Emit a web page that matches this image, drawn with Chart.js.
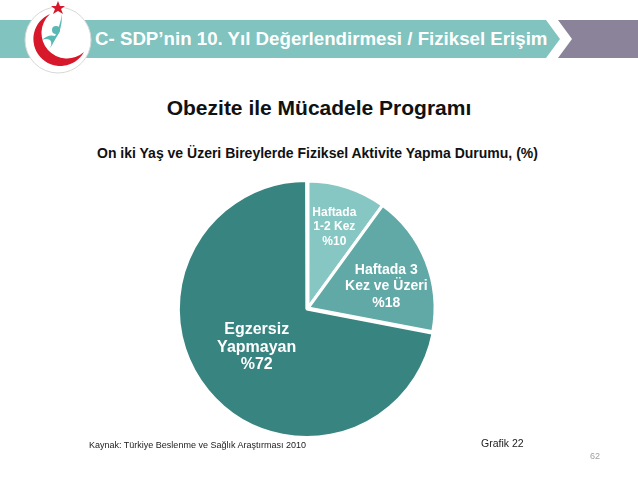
<!DOCTYPE html>
<html lang="tr">
<head>
<meta charset="utf-8">
<script src="https://cdn.jsdelivr.net/npm/chart.js@4/dist/chart.umd.min.js"></script>
<style>
  html, body { margin: 0; padding: 0; background: #fff; }
  body { width: 638px; height: 479px; position: relative; overflow: hidden;
         font-family: "Liberation Sans", Arial, sans-serif; }
  .abs { position: absolute; white-space: nowrap; }
  #basText { left: 95px; top: 28px; color: #fff; font-weight: bold; font-size: 18.7px; line-height: 22px; }
  #title { left: 0; width: 638px; text-align: center; top: 96px; font-weight: bold; font-size: 21px; color: #111; }
  #subtitle { left: 97px; top: 145px; font-weight: bold; font-size: 14px; color: #111; }
  #kaynak { left: 89px; top: 440px; font-size: 9px; color: #222; }
  #grafik { left: 481px; top: 437px; font-size: 10.5px; color: #222; }
  #sayfa { left: 590px; top: 451px; font-size: 9px; color: #a0a0a0; }
  #chartBox { position: absolute; left: 168px; top: 168px; width: 280px; height: 280px; }
</style>
</head>
<body>

<!-- üst bant -->
<svg class="abs" style="left:0;top:0" width="638" height="80">
  <polygon points="0,20 546,20 560,39 546,58 0,58" fill="#80c3bf"/>
  <polygon points="558,20 638,20 638,58 558,58 572,39" fill="#8b8399"/>
  <!-- logo -->
  <circle cx="58" cy="40" r="33" fill="#fff" stroke="#d8d8d8" stroke-width="1"/>
  <path d="M 50 14 A 27 27 0 1 0 84 52 A 23 23 0 1 1 50 14 Z" fill="#d7182a"/>
  <polygon points="58,1 60,6 65,6 61,9 63,14 58,11 53,14 55,9 51,6 56,6" fill="#d7182a"/>
  <circle cx="56" cy="30" r="4" fill="#5bb8b4"/>
  <path d="M 62 14 Q 62 30 56 38 Q 52 46 47 52 Q 54 44 50 40 Q 46 38 42 40 Q 48 34 55 36 Q 60 26 62 14 Z" fill="#5bb8b4"/>
</svg>
<div class="abs" id="basText">C- SDP’nin 10. Yıl Değerlendirmesi / Fiziksel Erişim</div>

<div class="abs" id="title">Obezite ile Mücadele Programı</div>
<div class="abs" id="subtitle">On iki Yaş ve Üzeri Bireylerde Fiziksel Aktivite Yapma Durumu, (%)</div>

<div id="chartBox"><canvas id="pastaChart"></canvas></div>

<div class="abs" id="kaynak">Kaynak: Türkiye Beslenme ve Sağlık Araştırması 2010</div>
<div class="abs" id="grafik">Grafik 22</div>
<div class="abs" id="sayfa">62</div>

<script>
/* ==========================
   Veriler
   ========================== */
const kategoriler = [
  ["Haftada", "1-2 Kez"],
  ["Haftada 3", "Kez ve Üzeri"],
  ["Egzersiz", "Yapmayan"],
];
const yuzdeler = [10, 18, 72];

/* --------------------------
   Görünüm
   -------------------------- */
const renkler = ["#87c7c3", "#60a9a7", "#388481"];
// etiket yerleşimi: yarıçap oranı, açı kaydırma (derece), font boyu, satır aralığı
const etiketOran = [0.67, 0.64, 0.51];
const etiketAci = [0, 6, 2];
const etiketFont = [12, 14, 16];
const etiketSatir = [14.5, 16.5, 17.5];

// dilim içi etiketleri çizen küçük eklenti
const dilimEtiketleri = {
  id: "dilimEtiketleri",
  afterDatasetsDraw(chart) {
    const ctx = chart.ctx;
    const meta = chart.getDatasetMeta(0);
    meta.data.forEach((arc, i) => {
      const p = arc.getProps(["x", "y", "startAngle", "endAngle", "outerRadius"], true);
      const aci = (p.startAngle + p.endAngle) / 2 + (etiketAci[i] * Math.PI) / 180;
      const r = p.outerRadius * etiketOran[i];
      const cx = p.x + Math.cos(aci) * r;
      const cy = p.y + Math.sin(aci) * r;
      const satirlar = [...kategoriler[i], "%" + yuzdeler[i]];
      ctx.save();
      ctx.fillStyle = "#ffffff";
      ctx.font = "bold " + etiketFont[i] + "px 'Liberation Sans', Arial, sans-serif";
      ctx.textAlign = "center";
      ctx.textBaseline = "middle";
      const h = etiketSatir[i];
      satirlar.forEach((s, k) => {
        ctx.fillText(s, cx, cy + (k - (satirlar.length - 1) / 2) * h);
      });
      ctx.restore();
    });
  },
};

new Chart(document.getElementById("pastaChart").getContext("2d"), {
  type: "pie",
  data: {
    labels: kategoriler.map((k) => k.join(" ")),
    datasets: [
      {
        data: yuzdeler,
        backgroundColor: renkler,
        borderColor: "#ffffff",
        borderWidth: 3,
        offset: [0, 0, 6],
        radius: 127,
      },
    ],
  },
  options: {
    responsive: true,
    maintainAspectRatio: false,
    animation: false,
    layout: { padding: 0 },
    plugins: {
      legend: { display: false },
      tooltip: { enabled: false },
    },
  },
  plugins: [dilimEtiketleri],
});
</script>
</body>
</html>
